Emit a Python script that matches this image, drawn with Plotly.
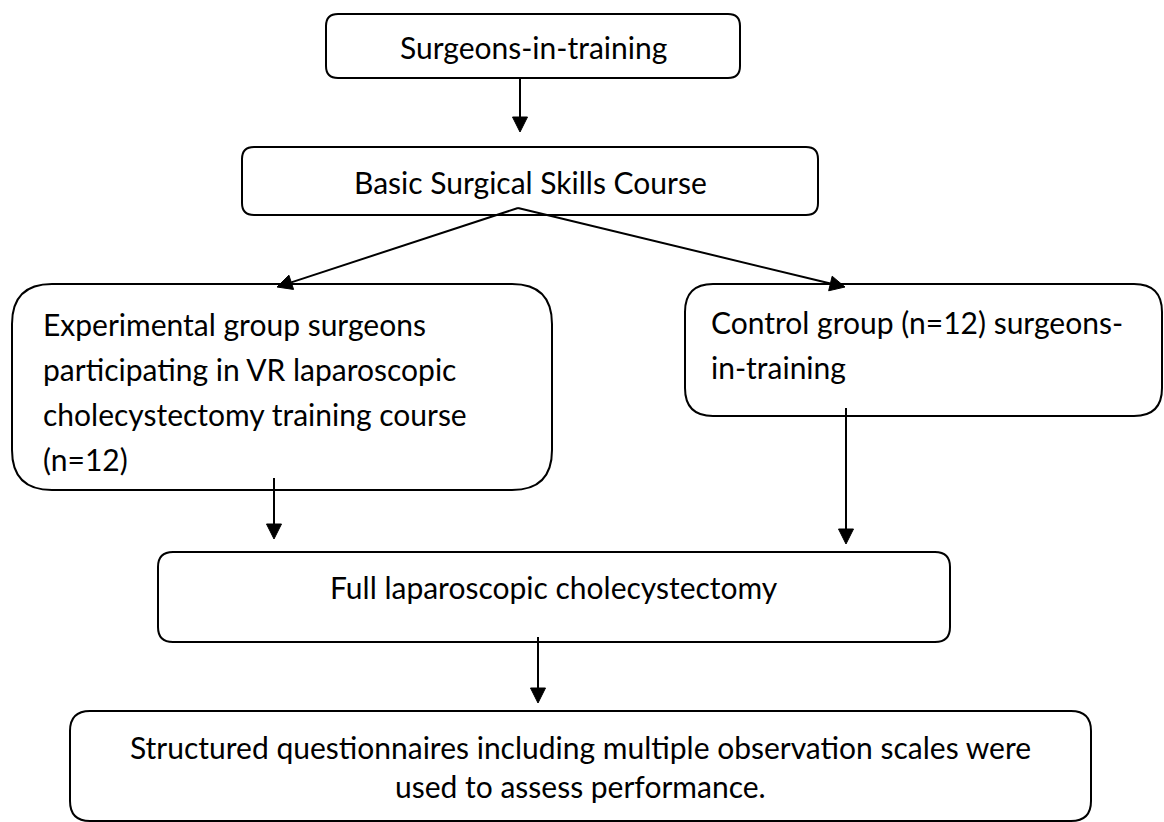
import plotly.graph_objects as go

W, H = 1164, 822
FONT = "Lato"
FSIZE = 30

# box labels (one entry per text line)
box_top = ["Surgeons-in-training"]
box_course = ["Basic Surgical Skills Course"]
box_exp = ["Experimental group surgeons",
           "participating in VR laparoscopic",
           "cholecystectomy training course",
           "(n=12)"]
box_ctrl = ["Control group (n=12) surgeons-",
            "in-training"]
box_full = ["Full laparoscopic cholecystectomy"]
box_final = ["Structured questionnaires including multiple observation scales were",
             "used to assess performance."]

# layout: (x0, y0, x1, y1, corner radius), text anchor, first line y, line gap
boxes = [
    dict(rect=(326, 14, 740, 78, 12), lines=box_top, align="center", tx=533, ty=47, gap=0),
    dict(rect=(242, 147, 818, 215, 12), lines=box_course, align="center", tx=530, ty=182, gap=0),
    dict(rect=(12, 284, 552, 490, 40), lines=box_exp, align="left", tx=41, ty=324, gap=45),
    dict(rect=(685, 284, 1162, 416, 28), lines=box_ctrl, align="left", tx=709, ty=322, gap=45),
    dict(rect=(158, 552, 950, 642, 15), lines=box_full, align="center", tx=554, ty=587, gap=0),
    dict(rect=(70, 711, 1091, 821, 20), lines=box_final, align="center", tx=580, ty=747, gap=39),
]

arrows = [
    ((520, 78), (520, 132)),
    ((518, 208), (277, 287)),
    ((518, 208), (845, 287)),
    ((274, 478), (274, 539)),
    ((846, 408), (846, 544)),
    ((538, 637), (538, 703)),
]


def rounded(x0, y0, x1, y1, r):
    return (f"M {x0+r},{y0} L {x1-r},{y0} Q {x1},{y0} {x1},{y0+r} "
            f"L {x1},{y1-r} Q {x1},{y1} {x1-r},{y1} L {x0+r},{y1} "
            f"Q {x0},{y1} {x0},{y1-r} L {x0},{y0+r} Q {x0},{y0} {x0+r},{y0} Z")


shapes = []
annotations = []
for b in boxes:
    shapes.append(dict(type="path", path=rounded(*b["rect"]), xref="x", yref="y",
                       line=dict(color="black", width=2), fillcolor="rgba(0,0,0,0)"))
    for i, txt in enumerate(b["lines"]):
        annotations.append(dict(x=b["tx"], y=b["ty"] + i * b["gap"], xref="x", yref="y",
                                text=txt, showarrow=False,
                                xanchor="left" if b["align"] == "left" else "center",
                                yanchor="middle",
                                font=dict(family=FONT, size=FSIZE, color="black")))

HEAD_L, HEAD_W = 15, 7.5
for (sx, sy), (ex, ey) in arrows:
    dx, dy = ex - sx, ey - sy
    n = (dx * dx + dy * dy) ** 0.5
    ux, uy = dx / n, dy / n
    bx, by = ex - ux * HEAD_L, ey - uy * HEAD_L
    px, py = -uy * HEAD_W, ux * HEAD_W
    shapes.append(dict(type="line", x0=sx, y0=sy, x1=bx, y1=by, xref="x", yref="y",
                       line=dict(color="black", width=2)))
    shapes.append(dict(type="path", xref="x", yref="y",
                       path=f"M {ex},{ey} L {bx+px},{by+py} L {bx-px},{by-py} Z",
                       fillcolor="black", line=dict(color="black", width=1)))

fig = go.Figure()
fig.update_layout(
    width=W, height=H,
    margin=dict(l=0, r=0, t=0, b=0),
    paper_bgcolor="white", plot_bgcolor="white",
    xaxis=dict(range=[0, W], visible=False, fixedrange=True),
    yaxis=dict(range=[H, 0], visible=False, fixedrange=True),
    shapes=shapes, annotations=annotations,
    showlegend=False,
)

# drop the browser's default body margin so the figure sits at the page origin
fig.write_html("out.html", config={"displayModeBar": False},
               post_script="document.body.style.margin='0';")
